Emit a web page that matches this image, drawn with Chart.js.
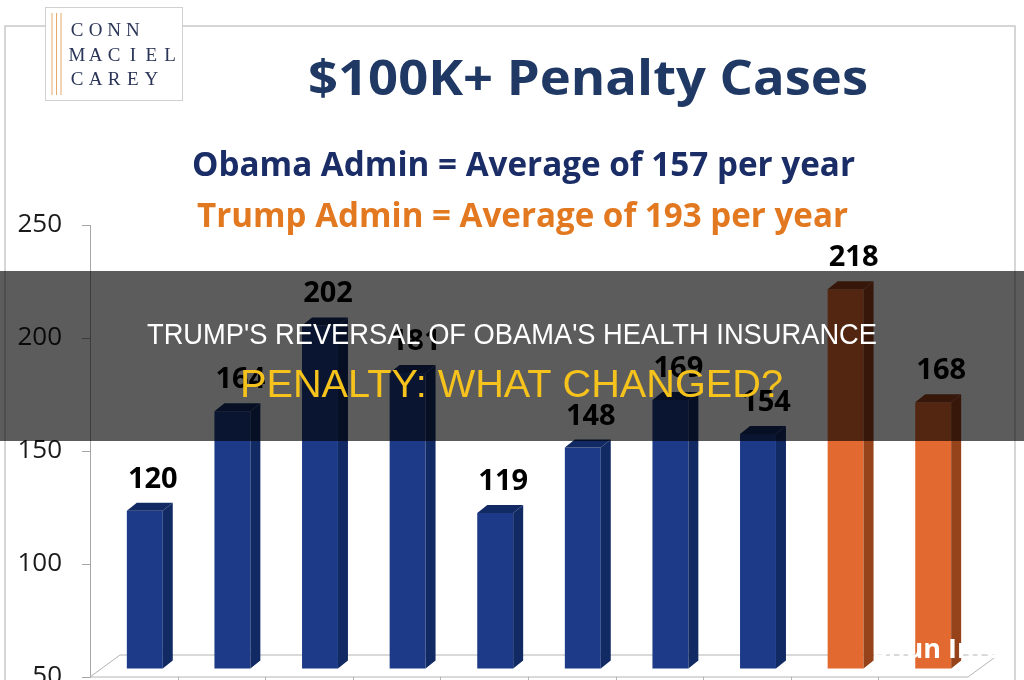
<!DOCTYPE html>
<html>
<head>
<meta charset="utf-8">
<title>$100K+ Penalty Cases</title>
<script src="https://cdn.jsdelivr.net/npm/chart.js@4.4.1/dist/chart.umd.min.js"></script>
<style>
    html, body {
        margin: 0;
        padding: 0;
        background: #ffffff;
        width: 1024px;
        height: 680px;
        overflow: hidden;
    }
    #chartBox {
        position: absolute;
        left: 0;
        top: 0;
        width: 1024px;
        height: 700px;
    }
</style>
</head>
<body>
<div id="chartBox">
    <canvas id="penaltyChart" width="1024" height="700"></canvas>
</div>

<script>
// ================= DATA =================

const years = ["FY2009", "FY2010", "FY2011", "FY2012", "FY2013", "FY2014", "FY2015", "FY2016", "FY2017", "FY2018"];
const cases = [120, 164, 202, 181, 119, 148, 169, 154, 218, 168];
const admin = ["Obama", "Obama", "Obama", "Obama", "Obama", "Obama", "Obama", "Obama", "Trump", "Trump"];
const yTicks = [50, 100, 150, 200, 250];

const titleText = "$100K+ Penalty Cases";
const obamaLine = "Obama Admin = Average of 157 per year";
const trumpLine = "Trump Admin = Average of 193 per year";
const bannerTop = "TRUMP'S REVERSAL OF OBAMA'S HEALTH INSURANCE";
const bannerBottom = "PENALTY: WHAT CHANGED?";
const logoLines = ["CONN", "MACIEL", "CAREY"];

// ================= COLOURS =================

const colors = {
    Obama: { front: "#1c3a88", side: "#122a63" },
    Trump: { front: "#e2692f", side: "#96421b" }
};

const DEPTH_X = 10;
const DEPTH_Y = 8;

// ================= HELPERS =================

// draw text squeezed/stretched to a given width (the original uses Calibri)
function fitText(ctx, text, x, baseline, width, font, color) {
    ctx.save();
    ctx.font = font;
    ctx.fillStyle = color;
    ctx.textAlign = "left";
    ctx.textBaseline = "alphabetic";
    const w = ctx.measureText(text).width;
    ctx.translate(x, baseline);
    ctx.scale(width / w, 1);
    ctx.fillText(text, 0, 0);
    ctx.restore();
}

// ================= PLUGINS =================

const framePlugin = {
    id: "frame",
    beforeDraw(chart) {
        const ctx = chart.ctx;
        ctx.save();

        // outer slide frame
        ctx.strokeStyle = "#c9c9c9";
        ctx.lineWidth = 1.5;
        ctx.beginPath();
        ctx.moveTo(5, 700);
        ctx.lineTo(5, 26);
        ctx.lineTo(1015, 26);
        ctx.lineTo(1015, 700);
        ctx.stroke();

        // logo box
        ctx.fillStyle = "#ffffff";
        ctx.fillRect(45, 7, 138, 94);
        ctx.strokeStyle = "#d0d0d0";
        ctx.lineWidth = 1;
        ctx.strokeRect(45.5, 7.5, 137, 93);

        ctx.strokeStyle = "#e6a96a";
        ctx.lineWidth = 1;
        [52, 56.5, 61].forEach(x => {
            ctx.beginPath();
            ctx.moveTo(x, 13);
            ctx.lineTo(x, 95);
            ctx.stroke();
        });

        ctx.fillStyle = "#2a3557";
        ctx.font = '19px "Liberation Serif", "DejaVu Serif", serif';
        ctx.textAlign = "center";
        ctx.textBaseline = "alphabetic";
        const baselines = [36, 61, 85];
        logoLines.forEach((word, i) => {
            for (let k = 0; k < word.length; k++) {
                ctx.fillText(word[k], 77 + k * 18.6, baselines[i]);
            }
        });

        ctx.restore();

        // titles
        fitText(ctx, titleText, 308, 95, 560, 'bold 49px "Open Sans"', "#1f3864");
        fitText(ctx, obamaLine, 192, 176, 663, 'bold 34px "Open Sans"', "#1b2d66");
        fitText(ctx, trumpLine, 197, 227, 651, 'bold 34px "Open Sans"', "#e2781f");
    }
};

const bars3dPlugin = {
    id: "bars3d",
    beforeDatasetsDraw(chart) {
        const ctx = chart.ctx;
        const area = chart.chartArea;
        const xScale = chart.scales.x;

        // 3D floor
        ctx.save();
        ctx.strokeStyle = "#b4b4b4";
        ctx.lineWidth = 1;
        ctx.beginPath();
        ctx.moveTo(area.left, area.bottom);
        ctx.lineTo(area.left + 30, area.bottom - 22);
        ctx.lineTo(area.right + 32, area.bottom - 22);
        ctx.lineTo(area.right + 2, area.bottom);
        ctx.closePath();
        ctx.stroke();

        // category separators on the front edge
        for (let i = 1; i < years.length; i++) {
            const x = Math.round((xScale.getPixelForTick(i - 1) + xScale.getPixelForTick(i)) / 2) + 0.5;
            ctx.beginPath();
            ctx.moveTo(x, area.bottom);
            ctx.lineTo(x, area.bottom + 8);
            ctx.stroke();
        }
        ctx.restore();

        // bars sit half-way back on the floor
        ctx.save();
        ctx.translate(11, -8);
    },
    afterDatasetsDraw(chart) {
        const ctx = chart.ctx;
        const meta = chart.getDatasetMeta(0);

        meta.data.forEach((bar, i) => {
            const c = colors[admin[i]];
            const left = bar.x - bar.width / 2;
            const right = bar.x + bar.width / 2;

            // side face
            ctx.fillStyle = c.side;
            ctx.beginPath();
            ctx.moveTo(right, bar.y);
            ctx.lineTo(right + DEPTH_X, bar.y - DEPTH_Y);
            ctx.lineTo(right + DEPTH_X, bar.base - DEPTH_Y);
            ctx.lineTo(right, bar.base);
            ctx.closePath();
            ctx.fill();

            // top face
            ctx.beginPath();
            ctx.moveTo(left, bar.y);
            ctx.lineTo(left + DEPTH_X, bar.y - DEPTH_Y);
            ctx.lineTo(right + DEPTH_X, bar.y - DEPTH_Y);
            ctx.lineTo(right, bar.y);
            ctx.closePath();
            ctx.fill();

            // value label
            ctx.fillStyle = "#000000";
            ctx.font = 'bold 29px "Open Sans"';
            ctx.textAlign = "center";
            ctx.textBaseline = "alphabetic";
            ctx.fillText(String(cases[i]), bar.x + 8, bar.y - 23);
        });

        ctx.restore();
    }
};

const bannerPlugin = {
    id: "banner",
    afterDraw(chart) {
        const ctx = chart.ctx;

        ctx.save();
        ctx.fillStyle = "rgba(0, 0, 0, 0.64)";
        ctx.fillRect(0, 271, chart.width, 170);
        ctx.restore();

        const narrow = '"Liberation Sans Narrow", "Liberation Sans", sans-serif';
        fitText(ctx, bannerTop, 147, 344, 730, "29px " + narrow, "#ffffff");
        fitText(ctx, bannerBottom, 240, 397, 543, "38px " + narrow, "#f6c21c");

        // watermark
        ctx.save();
        ctx.fillStyle = "#ffffff";
        ctx.font = 'bold 27px "Open Sans"';
        ctx.textAlign = "left";
        ctx.fillText("Shun Info", 873, 658);
        ctx.restore();
    }
};

// ================= CHART =================

const chartCtx = document.getElementById("penaltyChart").getContext("2d");

new Chart(chartCtx, {
    type: "bar",
    data: {
        labels: years,
        datasets: [{
            label: "$100K+ Penalty Cases",
            data: cases,
            base: yTicks[0],
            backgroundColor: admin.map(a => colors[a].front),
            borderWidth: 0,
            barPercentage: 0.41,
            categoryPercentage: 1
        }]
    },
    options: {
        responsive: false,
        animation: false,
        layout: {
            padding: { top: 225, right: 58, bottom: 23, left: 0 }
        },
        plugins: {
            legend: { display: false },
            tooltip: { enabled: false }
        },
        scales: {
            x: {
                display: false,
                offset: true
            },
            y: {
                min: yTicks[0],
                max: yTicks[yTicks.length - 1],
                afterBuildTicks(scale) {
                    scale.ticks = yTicks.map(v => ({ value: v }));
                },
                afterFit(scale) {
                    scale.width = 90;
                    scale.paddingTop = 0;
                    scale.paddingBottom = 0;
                },
                ticks: {
                    color: "#1a1a1a",
                    padding: 20,
                    font: { family: "Open Sans", size: 26 }
                },
                grid: {
                    drawOnChartArea: false,
                    tickLength: 8,
                    color: "#a6a6a6"
                },
                border: { color: "#a6a6a6" }
            }
        }
    },
    plugins: [framePlugin, bars3dPlugin, bannerPlugin]
});
</script>
</body>
</html>
